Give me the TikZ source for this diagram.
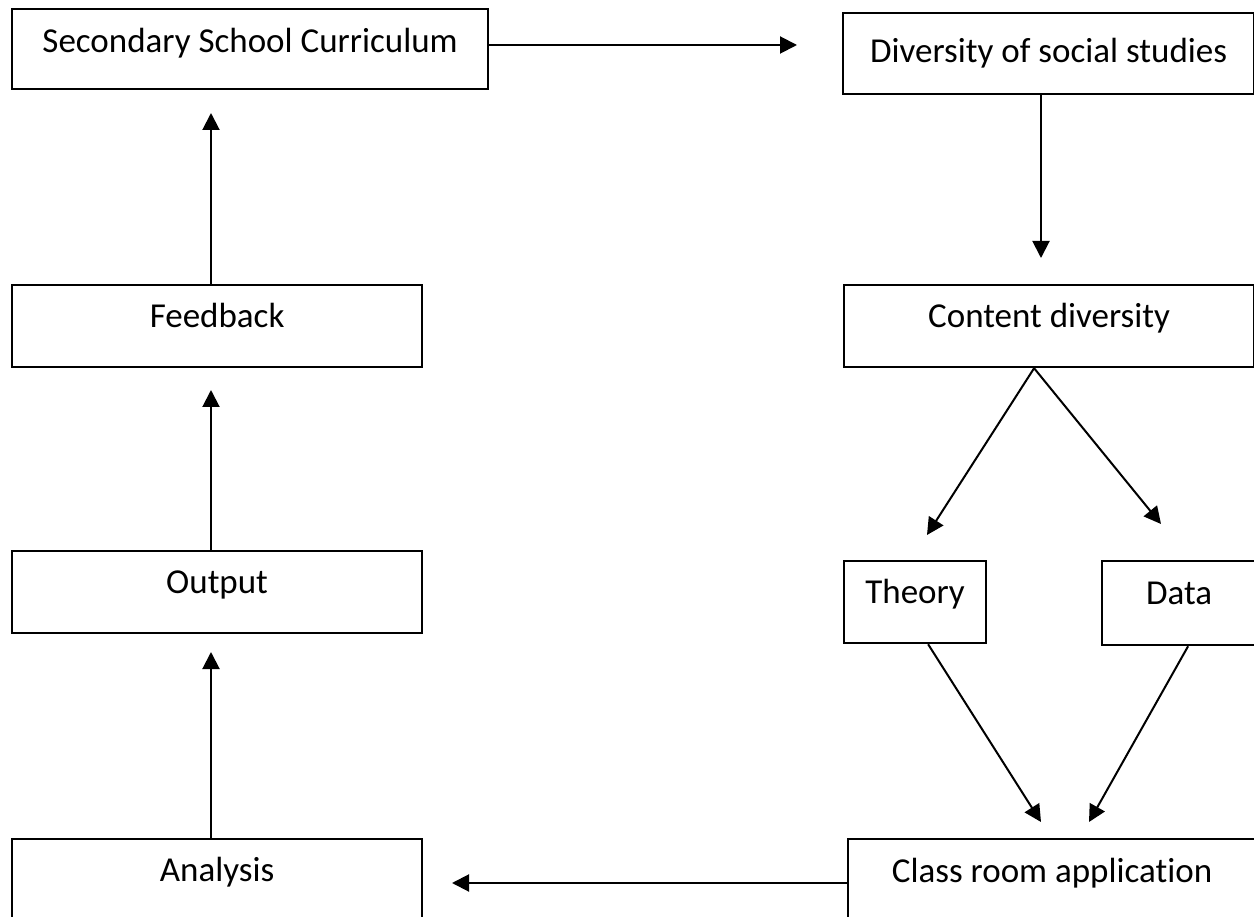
\documentclass[tikz,border=0pt]{standalone}
\usepackage{fontspec}
\setmainfont{Carlito}[Ligatures=NoCommon]
\usetikzlibrary{arrows.meta,calc}
\begin{document}
\begin{tikzpicture}[x=1pt,y=-1pt,
  box/.style={draw=black,line width=2.2pt,anchor=north west,inner sep=0pt},
  lbl/.style={anchor=base,inner sep=0pt,font=\fontsize{35}{42}\selectfont},
  conn/.style={line width=2pt,-{Triangle[length=17pt,width=17pt]}}]
\useasboundingbox (0,0) rectangle (1254,917);
\clip (0,0) rectangle (1254,917);
\node[box,minimum width=476pt,minimum height=80pt] (ssc) at (11,8) {};
\node[lbl] (ssct) at ($(ssc.north)+(0,45)$) {Secondary School Curriculum};
\node[box,minimum width=411pt,minimum height=81pt] (dss) at (842,12) {};
\node[lbl] (dsst) at ($(dss.north)+(0,51)$) {Diversity of social studies};
\node[box,minimum width=410pt,minimum height=82pt] (fb) at (11,284) {};
\node[lbl] (fbt) at ($(fb.north)+(0,44)$) {Feedback};
\node[box,minimum width=410pt,minimum height=82pt] (cd) at (843,284) {};
\node[lbl] (cdt) at ($(cd.north)+(0,44)$) {Content diversity};
\node[box,minimum width=410pt,minimum height=82pt] (out) at (11,550) {};
\node[lbl] (outt) at ($(out.north)+(0,43)$) {Output};
\node[box,minimum width=142pt,minimum height=82pt] (th) at (843,560) {};
\node[lbl] (tht) at ($(th.north)+(0,43)$) {Theory};
\node[box,minimum width=154pt,minimum height=84pt] (da) at (1101,560) {};
\node[lbl] (dat) at ($(da.north)+(0,44)$) {Data};
\node[box,minimum width=410pt,minimum height=100pt] (an) at (11,838) {};
\node[lbl] (ant) at ($(an.north)+(0,43)$) {Analysis};
\node[box,minimum width=408pt,minimum height=100pt] (cra) at (847,838) {};
\node[lbl] (crat) at ($(cra.north)+(0,44)$) {Class room application};
\coordinate (t1) at (797,45);
\coordinate (t2) at (1041,258);
\coordinate (t3) at (927,535);
\coordinate (t4) at (1161,524);
\coordinate (t5) at (1041,822);
\coordinate (t6) at (1089,822);
\coordinate (t7) at (452,883);
\coordinate (t8) at (211,652);
\coordinate (t9) at (211,390);
\coordinate (t10) at (211,113);
\coordinate (cdb) at ($(cd.south)+(-15,0)$);
\draw[conn] (ssc.east |- t1) -- (t1);
\draw[conn] (dss.south -| t2) -- (t2);
\draw[conn] (cdb) -- (t3);
\draw[conn] (cdb) -- (t4);
\draw[conn] ($(th.south)+(13,0)$) -- (t5);
\draw[conn] ($(da.south)+(9,0)$) -- (t6);
\draw[conn] (cra.west |- t7) -- (t7);
\draw[conn] (an.north -| t8) -- (t8);
\draw[conn] (out.north -| t9) -- (t9);
\draw[conn] (fb.north -| t10) -- (t10);
\end{tikzpicture}
\end{document}
